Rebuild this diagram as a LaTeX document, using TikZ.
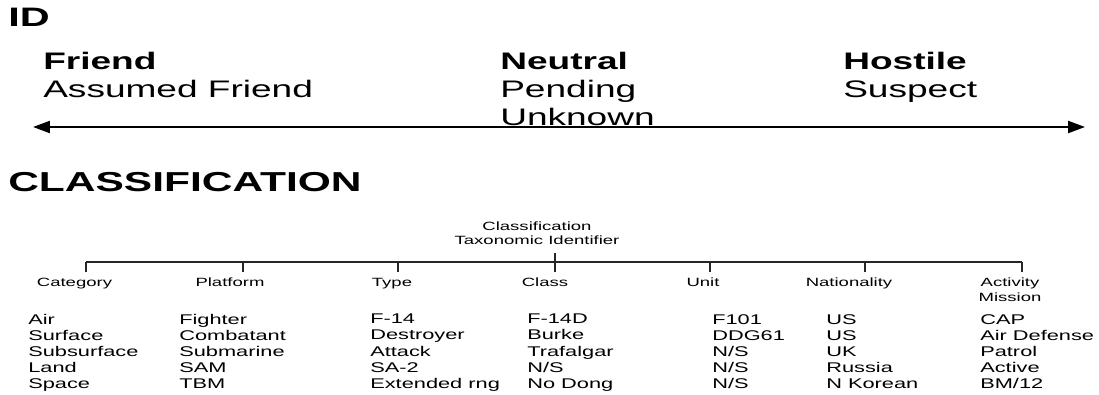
\documentclass[tikz,border=0pt]{standalone}
\usepackage{fontspec}
\newfontfamily\diagfont[FakeStretch=1.55]{Liberation Sans}
\usetikzlibrary{arrows.meta,positioning}

\tikzset{
  bigtitle/.style={font=\diagfont\fontsize{#1}{#1}\selectfont\bfseries, anchor=north west, inner sep=0pt},
  idgroup/.style={font=\diagfont\fontsize{17}{19.9}\selectfont, align=left, anchor=north west, inner sep=0pt},
  taxlabel/.style={font=\diagfont\fontsize{8.5}{10.2}\selectfont, align=center, anchor=north, inner sep=0pt},
  taxlist/.style={font=\diagfont\fontsize{10}{11.4}\selectfont, align=left, anchor=north west, inner sep=0pt},
  treeline/.style={line width=0.9pt, black!85},
  tick/.style={treeline, shorten >=0.15cm},
}

\begin{document}
\begin{tikzpicture}
  \useasboundingbox (0,0) rectangle (27.475,9.875);

  %% ID scale
  \node[bigtitle=19] (idtitle) at (0.2,9.67) {ID};
  \node[idgroup] (friend) at (1.075,8.575) {\textbf{Friend}\\Assumed Friend};
  \node[idgroup] (neutral) at (12.5,8.575) {\textbf{Neutral}\\Pending\\Unknown};
  \node[idgroup] (hostile) at (21.075,8.575) {\textbf{Hostile}\\Suspect};
  \coordinate (idleft) at (0.825,6.7);
  \coordinate (idright) at (27.125,6.7);
  \draw[{Triangle[length=12pt,width=8.5pt]}-{Triangle[length=12pt,width=8.5pt]}, line width=1.5pt] (idleft) -- (idright);

  %% Classification tree
  \node[bigtitle=19.5] (classtitle) at (0.2,5.575) {CLASSIFICATION};
  \node[taxlabel] (root) at (13.425,4.335) {Classification\\Taxonomic Identifier};
  \coordinate (rootstem) at (13.875,3.55);
  \coordinate (barleft) at (2.15,3.325);
  \coordinate (barright) at (25.55,3.325);
  \draw[treeline] (barleft) -- (barright);

  \node[taxlabel] (category) at (1.8625,2.925) {Category};
  \node[taxlabel] (platform) at (5.75,2.925) {Platform};
  \node[taxlabel] (type) at (9.8,2.925) {Type};
  \node[taxlabel] (class) at (13.625,2.925) {Class};
  \node[taxlabel] (unit) at (17.575,2.925) {Unit};
  \node[taxlabel] (nationality) at (21.225,2.925) {Nationality};
  \node[taxlabel] (activity) at (25.25,2.925) {Activity\\Mission};

  \coordinate (platstem) at (6.075,3.325);
  \coordinate (typestem) at (9.95,3.325);
  \coordinate (unitstem) at (17.75,3.325);
  \coordinate (natstem) at (21.625,3.325);
  \draw[tick] (barleft) -- (barleft |- category.north);
  \draw[tick] (platstem) -- (platstem |- platform.north);
  \draw[tick] (typestem) -- (typestem |- type.north);
  \draw[tick] (rootstem) -- (rootstem |- class.north);
  \draw[tick] (unitstem) -- (unitstem |- unit.north);
  \draw[tick] (natstem) -- (natstem |- nationality.north);
  \draw[tick] (barright) -- (barright |- activity.north);

  %% example entries per column
  \node[taxlist] (categorylist) at (0.7,2.025) {Air\\Surface\\Subsurface\\Land\\Space};
  \node[taxlist] (platformlist) at (4.475,2.025) {Fighter\\Combatant\\Submarine\\SAM\\TBM};
  \node[taxlist] (typelist) at (9.25,2.025) {F-14\\Destroyer\\Attack\\SA-2\\Extended rng};
  \node[taxlist] (classlist) at (13.175,2.025) {F-14D\\Burke\\Trafalgar\\N/S\\No Dong};
  \node[taxlist] (unitlist) at (17.8,2.025) {F101\\DDG61\\N/S\\N/S\\N/S};
  \node[taxlist] (natlist) at (20.65,2.025) {US\\US\\UK\\Russia\\N Korean};
  \node[taxlist] (activitylist) at (24.5,2.025) {CAP\\Air Defense\\Patrol\\Active\\BM/12};
\end{tikzpicture}
\end{document}
